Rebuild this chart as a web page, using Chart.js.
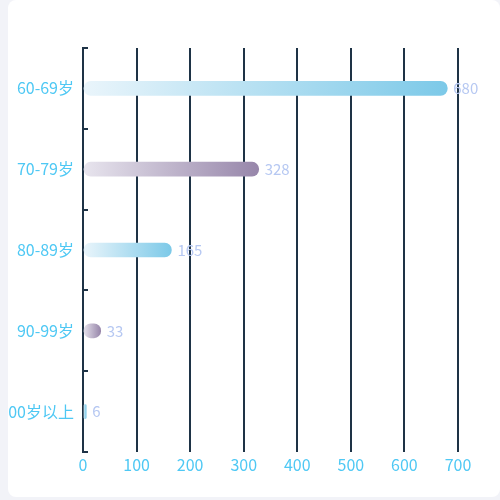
<!DOCTYPE html>
<html><head><meta charset="utf-8">
<script src="https://cdn.jsdelivr.net/npm/chart.js@4.4.0/dist/chart.umd.min.js"></script>
<style>
html,body{margin:0;padding:0;background:#f2f3f8;width:500px;height:500px;overflow:hidden;}
#card{position:absolute;left:8px;top:0;width:492px;height:497px;background:#fff;border-radius:8px;overflow:hidden;}
#wrap{position:absolute;left:-8px;top:0;width:500px;height:500px;}
</style></head>
<body>
<div id="card"><div id="wrap"><canvas id="c" width="500" height="500"></canvas></div></div>
<script>
const categories = ['60-69岁','70-79岁','80-89岁','90-99岁','100岁以上'];
const values = [680, 328, 165, 33, 6];
const xTicks = [0,100,200,300,400,500,600,700];
const endColors = ['#7cc9e8','#9786aa','#7cc9e8','#9786aa','#7cc9e8'];
const startColors = ['#eaf5fb','#e8e5ee','#eaf5fb','#e8e5ee','#eaf5fb'];
const FONT = '"Noto Sans CJK SC","Noto Sans",sans-serif';

const stubPlugin = {
  id:'stubs',
  afterDatasetsDraw(chart){
    const ctx = chart.ctx, y = chart.scales.y, x = chart.scales.x;
    const x0 = x.getPixelForValue(0);
    ctx.save();
    ctx.strokeStyle = '#1e3346'; ctx.lineWidth = 2;
    for(let i=0;i<=categories.length;i++){
      const py = Math.round(y.getPixelForValue(i-0.5));
      ctx.beginPath(); ctx.moveTo(x0-1, py); ctx.lineTo(x0+5, py); ctx.stroke();
    }
    ctx.fillStyle = '#b6c8f2';
    ctx.font = '15px ' + FONT;
    ctx.textBaseline = 'middle'; ctx.textAlign = 'left';
    const meta = chart.getDatasetMeta(0);
    meta.data.forEach((el,i)=>{
      ctx.fillText(String(values[i]), el.x + 6, el.y);
    });
    ctx.restore();
  }
};

new Chart(document.getElementById('c'), {
  type:'bar',
  data:{
    labels: categories,
    datasets:[{
      data: values,
      barThickness: 14,
      borderRadius: 7,
      borderSkipped: false,
      backgroundColor(ctx){
        const chart = ctx.chart;
        if(!chart.chartArea || ctx.dataIndex===undefined) return endColors[0];
        const xs = chart.scales.x;
        const i = ctx.dataIndex;
        const a = xs.getPixelForValue(0), b = xs.getPixelForValue(values[i]);
        const g = chart.ctx.createLinearGradient(a,0,Math.max(b,a+1),0);
        g.addColorStop(0,startColors[i]); g.addColorStop(1,endColors[i]);
        return g;
      }
    }]
  },
  options:{
    indexAxis:'y',
    responsive:false,
    animation:false,
    layout:{padding:{top:48,right:42,left:0,bottom:0}},
    plugins:{legend:{display:false},tooltip:{enabled:false}},
    scales:{
      x:{
        min:0,max:700,
        afterBuildTicks(s){ s.ticks = xTicks.map(v=>({value:v})); },
        afterFit(s){ s.height = 48; },
        grid:{color:'#1e3346',lineWidth:2,drawTicks:false},
        border:{display:false},
        ticks:{color:'#4ec8f4',font:{size:16,family:FONT},padding:3}
      },
      y:{
        afterFit(s){ s.width = 83; },
        grid:{display:false},
        border:{display:true,color:'#1e3346',width:2},
        ticks:{color:'#4ec8f4',font:{size:16,family:FONT},padding:1}
      }
    }
  },
  plugins:[stubPlugin]
});
</script>
</body></html>
